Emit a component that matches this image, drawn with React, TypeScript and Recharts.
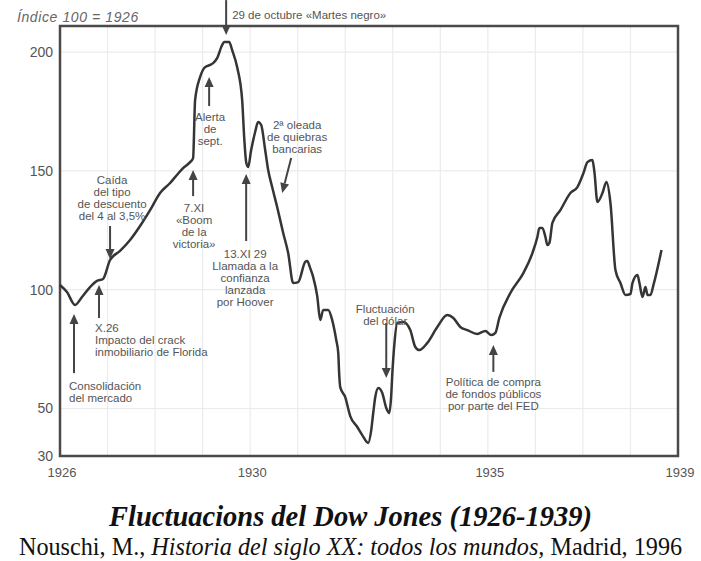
import { LineChart, Line, XAxis, YAxis, CartesianGrid, ReferenceArea, ReferenceLine, ReferenceDot } from 'recharts';

// Dow Jones index (1926 = 100)
const years = [
  1926.0, 1926.147, 1926.316, 1926.463, 1926.632, 1926.779, 1926.905, 1927.053, 1927.263, 1927.474,
  1927.684, 1927.895, 1928.105, 1928.316, 1928.421, 1928.589, 1928.737, 1928.8, 1928.842, 1928.947,
  1929.053, 1929.158, 1929.221, 1929.305, 1929.411, 1929.453, 1929.558, 1929.621, 1929.726, 1929.832,
  1929.874, 1929.916, 1929.958, 1930.021, 1930.105, 1930.168, 1930.232, 1930.316, 1930.379, 1930.463,
  1930.568, 1930.695, 1930.8, 1930.905, 1931.011, 1931.158, 1931.2, 1931.263, 1931.326, 1931.411,
  1931.474, 1931.537, 1931.642, 1931.726, 1931.811, 1931.853, 1931.874, 1931.895, 1932.0, 1932.105,
  1932.253, 1932.358, 1932.484, 1932.547, 1932.589, 1932.632, 1932.695, 1932.779, 1932.863, 1932.926,
  1932.968, 1932.989, 1933.032, 1933.095, 1933.221, 1933.368, 1933.474, 1933.558, 1933.726, 1933.937,
  1934.147, 1934.274, 1934.421, 1934.568, 1934.779, 1934.947, 1935.074, 1935.158, 1935.242, 1935.474,
  1935.747, 1935.937, 1936.042, 1936.084, 1936.147, 1936.211, 1936.253, 1936.295, 1936.358, 1936.526,
  1936.737, 1936.884, 1937.011, 1937.095, 1937.2, 1937.242, 1937.305, 1937.411, 1937.495, 1937.579,
  1937.684, 1937.789, 1937.895, 1938.0, 1938.042, 1938.147, 1938.189, 1938.253, 1938.316, 1938.358,
  1938.421, 1938.484, 1938.653,
];

const dowIndex = [
  102.0, 99.0, 93.6, 96.9, 101.1, 103.7, 104.5, 112.5, 116.3, 120.9,
  126.8, 133.5, 140.7, 144.9, 147.4, 151.2, 153.7, 155.4, 179.8, 189.5,
  193.7, 194.6, 195.4, 197.5, 203.0, 204.3, 204.3, 200.9, 193.7, 179.8,
  164.3, 153.7, 151.6, 158.8, 166.4, 170.6, 169.3, 158.8, 150.4, 143.2,
  134.8, 123.9, 115.4, 102.8, 103.2, 111.7, 112.1, 109.1, 105.3, 97.3,
  87.2, 91.5, 91.5, 87.2, 78.8, 73.4, 64.1, 59.0, 54.8, 46.8,
  42.2, 38.8, 35.5, 40.9, 48.1, 54.8, 58.6, 56.5, 50.2, 48.1,
  55.7, 64.1, 76.7, 86.0, 86.4, 83.0, 75.9, 74.6, 77.6, 84.3,
  89.3, 88.1, 84.3, 83.0, 81.4, 82.6, 80.9, 81.8, 88.1, 98.6,
  107.0, 115.4, 122.2, 126.0, 126.0, 122.2, 118.8, 119.7, 128.1, 133.5,
  140.7, 143.2, 149.1, 153.7, 154.6, 149.5, 136.9, 140.7, 145.3, 136.5,
  108.3, 102.8, 97.8, 98.2, 102.8, 106.2, 102.8, 96.9, 101.1, 97.8,
  97.8, 102.0, 116.7,
];

const gridYears = [1926, 1927, 1928, 1929, 1930, 1931, 1932, 1933, 1934, 1935, 1936, 1937, 1938, 1939];
const labelYears = [1926, 1930, 1935, 1939];
const yTicks = [30, 50, 100, 150, 200];

// arrows: [year, index] tail -> head
const arrows = [
  { from: [1929.495, 221.9], to: [1929.495, 207.2] },
  { from: [1929.137, 177.3], to: [1929.137, 189.5] },
  { from: [1930.863, 155.4], to: [1930.674, 140.7] },
  { from: [1927.053, 126.8], to: [1927.053, 112.9] },
  { from: [1928.8, 139.4], to: [1928.8, 150.4] },
  { from: [1929.916, 120.5], to: [1929.916, 148.7] },
  { from: [1926.821, 88.1], to: [1926.821, 102.0] },
  { from: [1926.295, 64.9], to: [1926.295, 89.8] },
  { from: [1932.863, 86.0], to: [1932.863, 62.8] },
  { from: [1935.116, 65.4], to: [1935.116, 76.7] },
];

const notes = [
  { at: [1925.095, 214.8], lines: ['Índice 100 = 1926'], anchor: 'start', italic: true, size: 14 },
  { at: [1929.621, 215.6], lines: ['29 de octubre «Martes negro»'], anchor: 'start' },
  { at: [1929.158, 172.7], lines: ['Alerta', 'de', 'sept.'], anchor: 'middle' },
  { at: [1930.989, 169.3], lines: ['2ª oleada', 'de quiebras', 'bancarias'], anchor: 'middle' },
  { at: [1927.095, 146.2], lines: ['Caída', 'del tipo', 'de descuento', 'del 4 al 3,5%'], anchor: 'middle' },
  { at: [1928.821, 134.4], lines: ['7.XI', '«Boom', 'de la', 'victoria»'], anchor: 'middle' },
  { at: [1929.895, 115.0], lines: ['13.XI 29', 'Llamada a la', 'confianza', 'lanzada', 'por Hoover'], anchor: 'middle' },
  { at: [1926.737, 83.9], lines: ['X.26', 'Impacto del crack', 'inmobiliario de Florida'], anchor: 'start' },
  { at: [1926.189, 59.5], lines: ['Consolidación', 'del mercado'], anchor: 'start' },
  { at: [1932.842, 91.9], lines: ['Fluctuación', 'del dólar'], anchor: 'middle' },
  { at: [1935.116, 61.1], lines: ['Política de compra', 'de fondos públicos', 'por parte del FED'], anchor: 'middle' },
];

const data = years.map((year, i) => ({ year, value: dowIndex[i] }));

const INK = '#444';
const SANS = '"Liberation Sans", Arial, sans-serif';

const XTick = ({ x, y, payload }: any) =>
  labelYears.includes(payload.value) ? (
    <text x={x + 2} y={y + 8} dy="0.35em" textAnchor="middle" fontSize={13} fill="#555" fontFamily={SANS}>
      {payload.value}
    </text>
  ) : null;

const YTick = ({ x, y, payload }: any) => (
  <text x={x + 1} y={y} dy="0.35em" textAnchor="end" fontSize={14} fill="#555" fontFamily={SANS}>
    {payload.value}
  </text>
);

const arrowShape = (props: any) => {
  const { x1, y1, x2, y2 } = props;
  if (![x1, y1, x2, y2].every((v) => Number.isFinite(v))) return <g />;
  const dx = x2 - x1;
  const dy = y2 - y1;
  const len = Math.hypot(dx, dy) || 1;
  const ux = dx / len;
  const uy = dy / len;
  const hl = 10;
  const hw = 4.5;
  const bx = x2 - ux * hl;
  const by = y2 - uy * hl;
  return (
    <g>
      <line x1={x1} y1={y1} x2={bx} y2={by} stroke={INK} strokeWidth={2} />
      <polygon
        points={`${x2},${y2} ${bx - uy * hw},${by + ux * hw} ${bx + uy * hw},${by - ux * hw}`}
        fill={INK}
      />
    </g>
  );
};

const noteShape = (note: (typeof notes)[number]) => (props: any) => {
  const { cx, cy } = props;
  if (!Number.isFinite(cx) || !Number.isFinite(cy)) return <g />;
  return (
    <text
      x={cx}
      y={cy}
      textAnchor={note.anchor}
      fontSize={note.size ?? 11.5}
      fontStyle={note.italic ? 'italic' : 'normal'}
      letterSpacing={note.italic ? 0.6 : 0}
      fill={note.italic ? '#666' : '#555'}
      fontFamily={SANS}
    >
      {note.lines.map((line, i) => (
        <tspan key={i} x={cx} dy={i === 0 ? '0.35em' : 12}>
          {line}
        </tspan>
      ))}
    </text>
  );
};

export default function App() {
  return (
    <div style={{ position: 'absolute', left: 0, top: 0, width: 701, height: 561, background: '#fff' }}>
      <LineChart width={701} height={500} data={data} margin={{ top: 26, right: 23, bottom: 14, left: 0 }}>
        <CartesianGrid stroke="#ebebeb" strokeWidth={1.2} />
        <XAxis
          type="number"
          dataKey="year"
          domain={[1926, 1939]}
          ticks={gridYears}
          interval={0}
          tick={<XTick />}
          tickLine={false}
          axisLine={false}
          height={30}
        />
        <YAxis
          type="number"
          domain={[30, 211]}
          ticks={yTicks}
          interval={0}
          tick={<YTick />}
          tickLine={false}
          axisLine={false}
          width={60}
        />
        <ReferenceArea
          x1={1926}
          x2={1939}
          y1={30}
          y2={211}
          fill="none"
          fillOpacity={0}
          stroke="#4a4a4a"
          strokeWidth={2.5}
          ifOverflow="visible"
        />
        {arrows.map((a, i) => (
          <ReferenceLine
            key={`arrow-${i}`}
            segment={[
              { x: a.from[0], y: a.from[1] },
              { x: a.to[0], y: a.to[1] },
            ]}
            ifOverflow="visible"
            shape={arrowShape}
          />
        ))}
        {notes.map((n, i) => (
          <ReferenceDot key={`note-${i}`} x={n.at[0]} y={n.at[1]} r={1} ifOverflow="visible" shape={noteShape(n)} />
        ))}
        <Line
          type="monotone"
          dataKey="value"
          stroke="#353535"
          strokeWidth={2.5}
          dot={false}
          isAnimationActive={false}
        />
      </LineChart>
      <div
        style={{
          position: 'absolute',
          left: 0,
          top: 501,
          width: 701,
          textAlign: 'center',
          fontFamily: '"Liberation Serif", serif',
          fontWeight: 'bold',
          fontStyle: 'italic',
          fontSize: 28.5,
          lineHeight: '32px',
          color: '#111',
        }}
      >
        Fluctuacions del Dow Jones (1926-1939)
      </div>
      <div
        style={{
          position: 'absolute',
          left: 0,
          top: 533,
          width: 701,
          textAlign: 'center',
          fontFamily: '"Liberation Serif", serif',
          fontSize: 24.2,
          lineHeight: '28px',
          color: '#111',
          whiteSpace: 'nowrap',
        }}
      >
        Nouschi, M., <i>Historia del siglo XX: todos los mundos,</i> Madrid, 1996
      </div>
    </div>
  );
}
